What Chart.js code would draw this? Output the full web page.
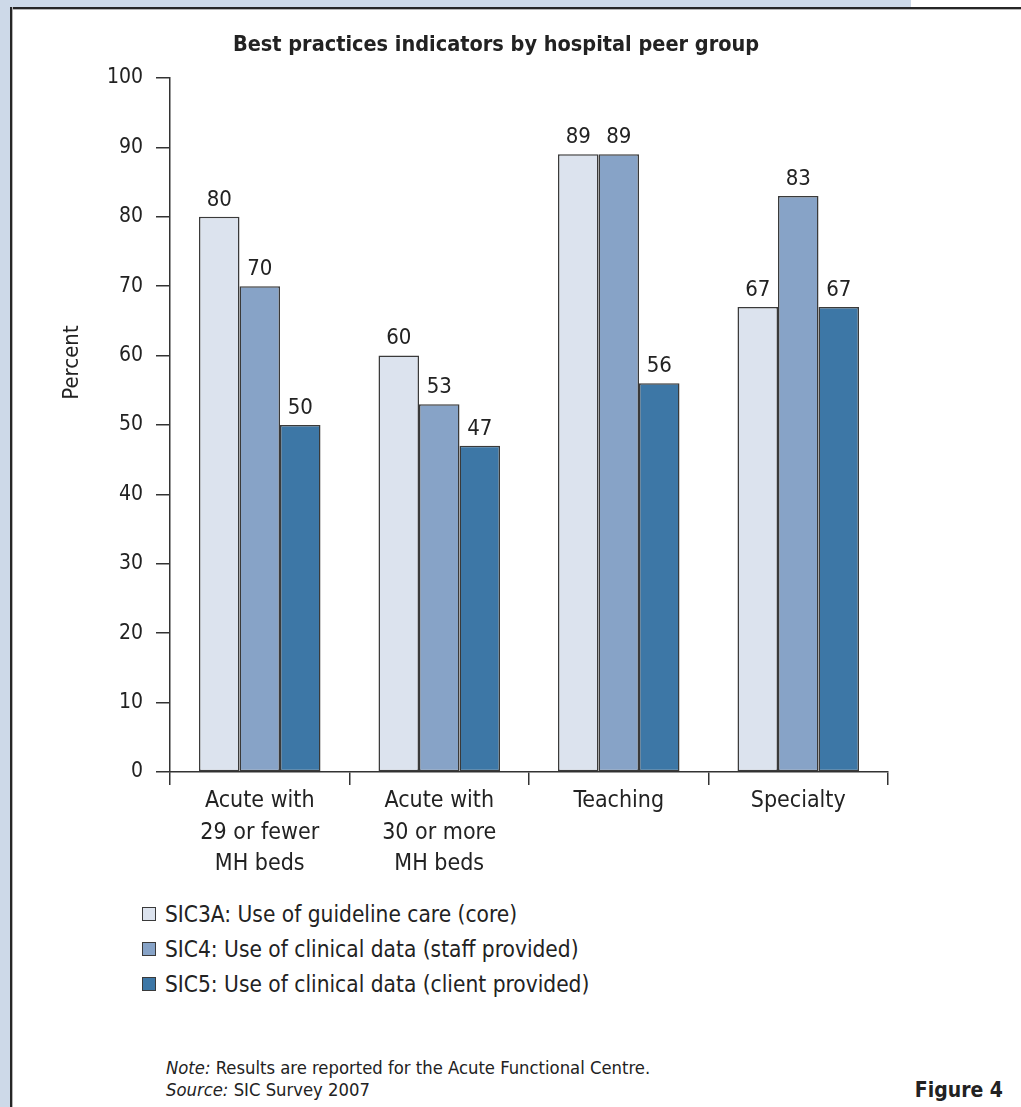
<!DOCTYPE html>
<html>
<head>
<meta charset="utf-8">
<script src="https://cdn.jsdelivr.net/npm/chart.js@4.4.1/dist/chart.umd.min.js"></script>
<style>
  html, body { margin: 0; padding: 0; background: #fff; }
  body { width: 1021px; height: 1107px; position: relative; overflow: hidden;
         font-family: 'Liberation Sans Narrow', 'Arial Narrow', 'DejaVu Sans Condensed', sans-serif; color: #222; }
  .band-top { position: absolute; left: 0; top: 0; width: 911px; height: 7px; background: #cdd9e8; }
  .band-left { position: absolute; left: 0; top: 0; width: 10px; height: 1107px; background: #cdd9e8; }
  .rule-top { position: absolute; left: 10px; top: 7px; width: 1011px; height: 2px; background: #262626; border-bottom: 1px solid #b5b5b5; }
  .rule-left { position: absolute; left: 10px; top: 7px; width: 2px; height: 1100px; background: #262626; border-right: 1px solid #b5b5b5; }
  #chart { position: absolute; left: 0; top: 0; }
  #legend { position: absolute; left: 142px; top: 896px; }
  .item { height: 35px; display: flex; align-items: center; font-size: 22.5px; }
  .swatch { width: 12px; height: 12px; border: 1.5px solid #3a3a3a; margin-right: 9px; }
  .notes { position: absolute; left: 166px; top: 1057px; font-size: 18.3px; line-height: 22px; }
  .fig { position: absolute; right: 18px; top: 1078px; font-size: 21px; font-weight: bold; }
</style>
</head>
<body>
<div class="band-top"></div>
<div class="band-left"></div>
<div class="rule-top"></div>
<div class="rule-left"></div>
<canvas id="chart" width="1021" height="880"></canvas>
<div id="legend"></div>
<div class="notes"><i>Note:</i> Results are reported for the Acute Functional Centre.<br><i>Source:</i> SIC Survey 2007</div>
<div class="fig">Figure 4</div>
<script>
const categories = [
  ['Acute with', '29 or fewer', 'MH beds'],
  ['Acute with', '30 or more', 'MH beds'],
  'Teaching',
  'Specialty'
];
const seriesNames = [
  'SIC3A: Use of guideline care (core)',
  'SIC4: Use of clinical data (staff provided)',
  'SIC5: Use of clinical data (client provided)'
];
const sic3a = [80, 60, 89, 67];
const sic4 = [70, 53, 89, 83];
const sic5 = [50, 47, 56, 67];
const yTicks = [0, 10, 20, 30, 40, 50, 60, 70, 80, 90, 100];

const colors = ['#dce3ee', '#87a3c7', '#3d77a6'];
const FONT = "'Liberation Sans Narrow', 'Arial Narrow', 'DejaVu Sans Condensed', sans-serif";
const ink = '#222';
const line = '#333';

Chart.defaults.font.family = FONT;
Chart.defaults.color = ink;

const valueLabels = {
  id: 'valueLabels',
  afterDatasetsDraw(chart) {
    const ctx = chart.ctx;
    ctx.save();
    ctx.font = `22px ${FONT}`;
    ctx.fillStyle = ink;
    ctx.textAlign = 'center';
    ctx.textBaseline = 'bottom';
    chart.data.datasets.forEach((ds, i) => {
      chart.getDatasetMeta(i).data.forEach((bar, j) => {
        ctx.fillText(ds.data[j], bar.x, bar.y - 6);
      });
    });
    ctx.restore();
  }
};

// "Percent" sits above the middle of the axis, so draw it by hand
const yTitle = {
  id: 'yTitle',
  afterDraw(chart) {
    const ctx = chart.ctx;
    ctx.save();
    ctx.translate(72, chart.scales.y.getPixelForValue(59));
    ctx.rotate(-Math.PI / 2);
    ctx.font = `22px ${FONT}`;
    ctx.fillStyle = ink;
    ctx.textAlign = 'center';
    ctx.textBaseline = 'middle';
    ctx.fillText('Percent', 0, 0);
    ctx.restore();
  }
};

const datasets = [sic3a, sic4, sic5].map((d, i) => ({
  label: seriesNames[i],
  data: d,
  backgroundColor: colors[i],
  borderColor: '#3a3a3a',
  borderWidth: 1.5,
  borderSkipped: false,
  categoryPercentage: 0.677,
  barPercentage: 1.0
}));

new Chart(document.getElementById('chart'), {
  type: 'bar',
  data: { labels: categories, datasets },
  options: {
    responsive: false,
    devicePixelRatio: 1,
    animation: false,
    layout: { padding: { left: 104, right: 133, top: 0, bottom: 8 } },
    plugins: {
      legend: { display: false },
      tooltip: { enabled: false },
      title: {
        display: true,
        text: 'Best practices indicators by hospital peer group',
        color: ink,
        font: { size: 21.5, weight: 'bold', lineHeight: 1.2 },
        padding: { top: 33, bottom: 19.2 }
      }
    },
    scales: {
      x: {
        offset: true,
        grid: { display: true, offset: true, drawOnChartArea: false, tickLength: 13, color: line, lineWidth: 1.5 },
        border: { display: true, color: line, width: 1.5 },
        ticks: { color: ink, font: { size: 23, lineHeight: 1.35 }, padding: 1, maxRotation: 0, autoSkip: false },
        afterFit: (s) => { s.height = 100; }
      },
      y: {
        min: 0,
        max: 100,
        afterBuildTicks: (s) => { s.ticks = yTicks.map(v => ({ value: v })); },
        grid: { display: true, drawOnChartArea: false, tickLength: 14, color: line, lineWidth: 1.5 },
        border: { display: true, color: line, width: 1.5 },
        ticks: { color: ink, font: { size: 21 }, padding: 13, callback: (v) => String(v) },
        afterFit: (s) => { s.width = 66; }
      }
    }
  },
  plugins: [valueLabels, yTitle]
});

const legend = document.getElementById('legend');
seriesNames.forEach((name, i) => {
  const row = document.createElement('div');
  row.className = 'item';
  const sw = document.createElement('span');
  sw.className = 'swatch';
  sw.style.background = colors[i];
  row.appendChild(sw);
  row.appendChild(document.createTextNode(name));
  legend.appendChild(row);
});
</script>
</body>
</html>
